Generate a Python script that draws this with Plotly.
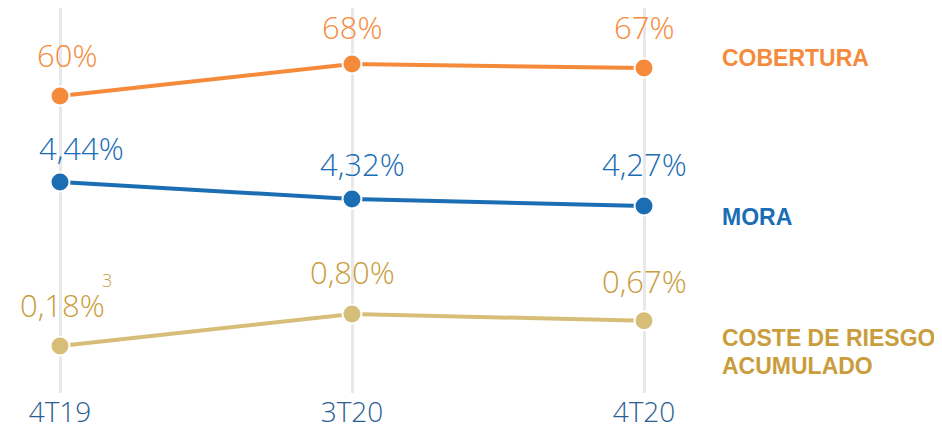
import plotly.graph_objects as go

# ── Data ────────────────────────────────────────────────────────────────
periods = ["4T19", "3T20", "4T20"]
cobertura = [60, 68, 67]
mora = [4.44, 4.32, 4.27]
coste_riesgo = [0.18, 0.80, 0.67]

cobertura_txt = ["60%", "68%", "67%"]
mora_txt = ["4,44%", "4,32%", "4,27%"]
coste_txt = ["0,18%", "0,80%", "0,67%"]

# ── Style ───────────────────────────────────────────────────────────────
ORANGE = "#F58A3B"
BLUE = "#1B6DB4"
GOLD_MARK = "#D7BE78"
GOLD_TEXT = "#C99D3C"
TICK_BLUE = "#2B5E93"
NUM_FONT = "Open Sans"
LBL_FONT = "Liberation Sans"

# page body adds an 8px margin, so work in figure pixels = screen - 8
OFF = 8
W, H = 942 - OFF, 429 - OFF
PLOT_H = 393 - OFF
PX_PER_X = 292
X0 = 60 - OFF

x = list(range(len(periods)))

series = [
    # values, texts, color, text color, yaxis, label dx, label dy
    (cobertura, cobertura_txt, ORANGE, ORANGE, "y", [7, 0, 0], [41, 37, 41]),
    (mora, mora_txt, BLUE, BLUE, "y2", [21, 10, 0], [34, 35, 42]),
    (coste_riesgo, coste_txt, GOLD_MARK, GOLD_TEXT, "y3", [2, 0, 0], [41, 42, 40]),
]

fig = go.Figure()
annotations = []
for vals, txts, col, tcol, yax, dxs, dys in series:
    fig.add_trace(go.Scatter(
        x=x, y=vals, yaxis=yax,
        mode="lines+markers",
        line=dict(color=col, width=4),
        marker=dict(color=col, size=19, line=dict(color="white", width=2)),
        hoverinfo="skip",
        showlegend=False,
    ))
    for xi, v, t, dx, dy in zip(x, vals, txts, dxs, dys):
        annotations.append(dict(
            x=xi, y=v, xref="x", yref=yax, text=t, showarrow=False,
            xshift=dx, yshift=dy, yanchor="middle",
            font=dict(family=NUM_FONT, size=31, color=tcol, weight=300),
        ))

# superscript note on first cost value
annotations.append(dict(
    x=0, y=coste_riesgo[0], xref="x", yref="y3", text="3", showarrow=False,
    xshift=47, yshift=66, yanchor="middle",
    font=dict(family=NUM_FONT, size=18, color=GOLD_TEXT, weight=300),
))

# right-hand series labels (screen pixel positions)
right_labels = [
    ("COBERTURA", 58, ORANGE),
    ("MORA", 217, BLUE),
    ("COSTE DE RIESGO", 338, GOLD_TEXT),
    ("ACUMULADO", 366, GOLD_TEXT),
]
for txt, ypx, col in right_labels:
    annotations.append(dict(
        x=(720 - OFF) / W, y=1 - (ypx - OFF) / PLOT_H, xref="paper", yref="paper",
        text=txt, showarrow=False, xanchor="left", yanchor="middle", align="left",
        font=dict(family=LBL_FONT, size=23, color=col, weight="bold"),
    ))

fig.update_layout(
    width=W, height=H,
    margin=dict(l=0, r=0, t=0, b=H - PLOT_H, autoexpand=False),
    paper_bgcolor="white", plot_bgcolor="white",
    xaxis=dict(
        range=[-X0 / PX_PER_X, (W - X0) / PX_PER_X],
        tickvals=x, ticktext=periods,
        showgrid=True, gridcolor="#E8E8E8", gridwidth=3,
        zeroline=False, showline=False, ticks="",
        tickfont=dict(family=NUM_FONT, size=28, color=TICK_BLUE, weight=300),
    ),
    yaxis=dict(range=[60 - (PLOT_H - (96 - OFF)) / 4, 60 + (96 - OFF) / 4],
               visible=False),
    yaxis2=dict(range=[4.44 - (PLOT_H - (182 - OFF)) / 141.5,
                       4.44 + (182 - OFF) / 141.5],
                overlaying="y", visible=False),
    yaxis3=dict(range=[0.18 - (PLOT_H - (346 - OFF)) / 51.6,
                       0.18 + (346 - OFF) / 51.6],
                overlaying="y", visible=False),
    annotations=annotations,
)

fig.write_html("out.html")
